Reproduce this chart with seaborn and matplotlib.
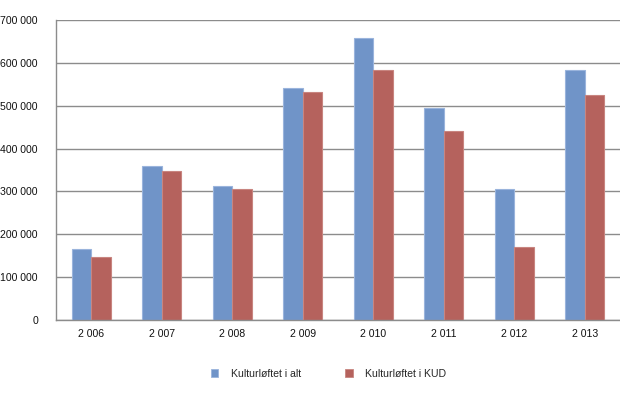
import numpy as np
import pandas as pd
import seaborn as sns
import matplotlib

matplotlib.use('Agg')
import matplotlib.pyplot as plt

# Data
aar = ['2 006', '2 007', '2 008', '2 009', '2 010', '2 011', '2 012', '2 013']
kulturloftet_i_alt = [165000, 360000, 313000, 541000, 657000, 495000, 306000, 583000]
kulturloftet_i_kud = [147000, 348000, 306000, 533000, 583000, 441000, 170000, 526000]
serier = ['Kulturløftet i alt', 'Kulturløftet i KUD']
y_ticks = [0, 100000, 200000, 300000, 400000, 500000, 600000, 700000]
y_labels = ['0', '100 000', '200 000', '300 000', '400 000', '500 000', '600 000', '700 000']

farger = ['#7094c8', '#b5625d']
kanter = ['#9ab4dc', '#c88580']

df = pd.DataFrame({
    'Aar': aar * 2,
    'Verdi': kulturloftet_i_alt + kulturloftet_i_kud,
    'Serie': [serier[0]] * len(aar) + [serier[1]] * len(aar),
})

sns.set_style('white')
plt.rcParams['font.family'] = ['Liberation Sans', 'DejaVu Sans']
plt.rcParams['font.size'] = 7.6

fig = plt.figure(figsize=(6.2, 3.96), dpi=100)
ax = fig.add_axes([0.0903, 0.1919, 0.9097, 0.7576])

sns.barplot(data=df, x='Aar', y='Verdi', hue='Serie', order=aar, hue_order=serier,
            palette=farger, width=0.555, gap=0, saturation=1, ax=ax, legend=False)

# lys kant rundt stolpene
for i, cont in enumerate(ax.containers):
    for bar in cont:
        bar.set_edgecolor(kanter[i])
        bar.set_linewidth(0.8)

ax.set_ylim(0, 700000)
ax.set_xlim(-0.5, len(aar) - 0.5)
ax.set_yticks(y_ticks)
ax.set_yticklabels(y_labels)
ax.set_xlabel('')
ax.set_ylabel('')

ax.yaxis.grid(True, color='#8c8c8c', linewidth=1.0)
ax.set_axisbelow(True)
ax.tick_params(axis='y', length=0, pad=13, labelsize=7.6, colors='#111111')
ax.tick_params(axis='x', length=0, pad=6.5, labelsize=7.6, colors='#111111')

for s in ['top', 'right']:
    ax.spines[s].set_visible(False)
ax.spines['left'].set_color('#8c8c8c')
ax.spines['bottom'].set_color('#8c8c8c')
ax.spines['left'].set_linewidth(1.0)
ax.spines['bottom'].set_linewidth(1.0)

handles = [plt.Rectangle((0, 0), 1, 1, facecolor=farger[i], edgecolor=kanter[i], linewidth=0.6)
           for i in range(2)]
fig.legend(handles, serier, loc='center', bbox_to_anchor=(0.53, 0.056), ncol=2,
           frameon=False, handlelength=0.7, handleheight=0.7, handletextpad=1.2,
           columnspacing=4.2, fontsize=7.6)

fig.savefig('out.png', dpi=100)
